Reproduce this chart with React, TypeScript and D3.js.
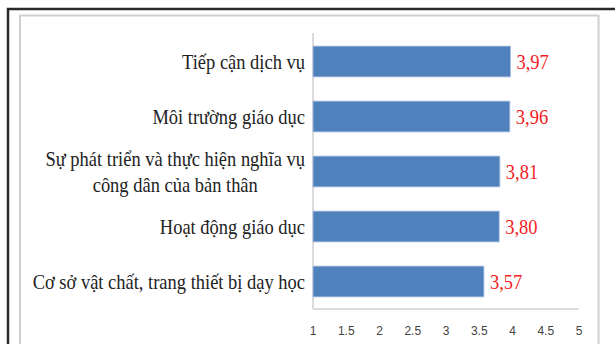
import React, { useEffect, useRef } from "react";
import * as d3 from "d3";

const categories = [
  "Tiếp cận dịch vụ",
  "Môi trường giáo dục",
  "Sự phát triển và thực hiện nghĩa vụ|công dân của bản thân",
  "Hoạt động giáo dục",
  "Cơ sở vật chất, trang thiết bị dạy học",
];
const values = [3.97, 3.96, 3.81, 3.8, 3.57];
const xTicks = [1, 1.5, 2, 2.5, 3, 3.5, 4, 4.5, 5];

const width = 615;
const height = 344;
const serif = "'Liberation Serif', 'Times New Roman', serif";

export default function App() {
  const ref = useRef<SVGSVGElement>(null);

  useEffect(() => {
    const svg = d3.select(ref.current);
    svg.selectAll("*").remove();

    // frames
    svg
      .append("rect")
      .attr("x", 8)
      .attr("y", 9)
      .attr("width", 700)
      .attr("height", 400)
      .attr("fill", "#fff")
      .attr("stroke", "#2a2a2a")
      .attr("stroke-width", 2.5);
    svg
      .append("rect")
      .attr("x", 20)
      .attr("y", 15.5)
      .attr("width", 578.5)
      .attr("height", 400)
      .attr("fill", "#fff")
      .attr("stroke", "#cfcfcf")
      .attr("stroke-width", 2);

    const x = d3.scaleLinear().domain([1, 5]).range([313, 579]);
    const y = d3
      .scaleBand<string>()
      .domain(categories)
      .range([34, 309])
      .paddingInner(0.44)
      .paddingOuter(0.22);

    // axis lines
    svg
      .append("line")
      .attr("x1", x(1))
      .attr("x2", x(1))
      .attr("y1", 33)
      .attr("y2", 309)
      .attr("stroke", "#d0d0d0")
      .attr("stroke-width", 1.5);
    svg
      .append("line")
      .attr("x1", x(1))
      .attr("x2", x(5))
      .attr("y1", 309)
      .attr("y2", 309)
      .attr("stroke", "#d0d0d0")
      .attr("stroke-width", 1.5);

    // tick labels
    svg
      .selectAll(".tick")
      .data(xTicks)
      .enter()
      .append("text")
      .attr("x", (d) => x(d))
      .attr("y", 335)
      .attr("text-anchor", "middle")
      .attr("font-family", "'Liberation Sans', Arial, sans-serif")
      .attr("font-size", 12)
      .attr("fill", "#444")
      .text((d) => String(d));

    // bars
    svg
      .selectAll(".bar")
      .data(values)
      .enter()
      .append("rect")
      .attr("x", x(1))
      .attr("y", (d, i) => y(categories[i])!)
      .attr("width", (d) => x(d) - x(1))
      .attr("height", y.bandwidth())
      .attr("fill", "#4f81bd")
      .attr("stroke", "#a9c0df")
      .attr("stroke-width", 0.8);

    // value labels (slightly condensed like the original)
    values.forEach((v, i) => {
      const cy = y(categories[i])! + y.bandwidth() / 2;
      svg
        .append("text")
        .attr("transform", `translate(${x(v) + 6},${cy + 7}) scale(0.88,1)`)
        .attr("font-family", serif)
        .attr("font-size", 21)
        .attr("fill", "#f41c24")
        .text(v.toFixed(2).replace(".", ","));
    });

    // category labels
    categories.forEach((c) => {
      const lines = c.split("|");
      const cy = y(c)! + y.bandwidth() / 2;
      const g = svg
        .append("g")
        .attr("transform", `translate(305,${cy}) scale(0.88,1)`)
        .attr("font-family", serif)
        .attr("font-size", 21)
        .attr("fill", "#222");
      if (lines.length === 1) {
        g.append("text").attr("y", 7).attr("text-anchor", "end").text(c);
      } else {
        const t1 = g
          .append("text")
          .attr("y", -6)
          .attr("text-anchor", "end")
          .text(lines[0]);
        const w = (t1.node() as SVGTextElement).getComputedTextLength();
        g.append("text")
          .attr("x", -w / 2)
          .attr("y", 21)
          .attr("text-anchor", "middle")
          .text(lines[1]);
      }
    });
  }, []);

  return (
    <svg
      ref={ref}
      width={width}
      height={height}
      style={{ position: "absolute", left: 0, top: 0 }}
    />
  );
}
